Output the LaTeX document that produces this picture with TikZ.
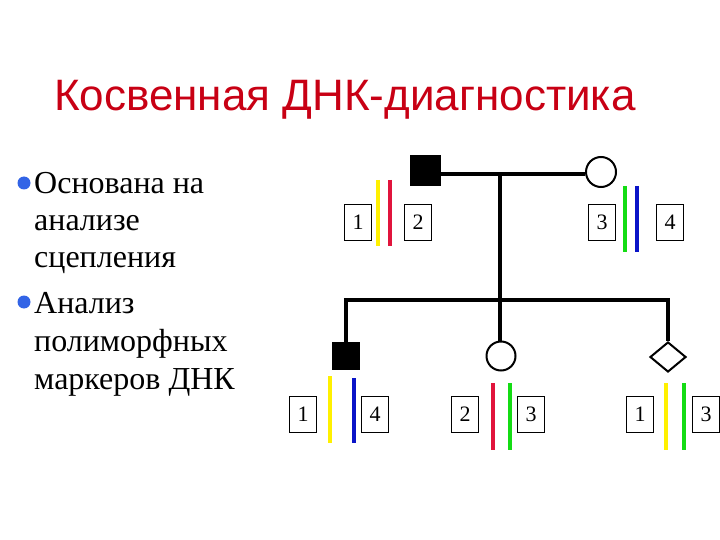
\documentclass[tikz,border=0pt]{standalone}
\usepackage{fontspec}
\setmainfont{Liberation Serif}
\newfontfamily\titlefont{Liberation Sans}
\usetikzlibrary{shapes.geometric}
\definecolor{ttl}{RGB}{200,0,20}
\definecolor{bul}{RGB}{50,100,230}
\definecolor{myyel}{RGB}{255,240,0}
\definecolor{myred}{RGB}{225,20,60}
\definecolor{mygrn}{RGB}{20,220,20}
\definecolor{myblu}{RGB}{10,20,200}
\begin{document}
\begin{tikzpicture}[x=1pt,y=-1pt,
  num/.style={draw,line width=0.7pt,minimum width=27pt,minimum height=36pt,inner sep=0pt,font=\fontsize{22}{22}\selectfont},
  pline/.style={line width=4.5pt},
  allele/.style={line width=4pt},
  body/.style={anchor=base west,font=\fontsize{32}{32}\selectfont,inner sep=0pt},
  bulletdot/.style={circle,fill=bul,minimum size=13pt,inner sep=0pt}]
\useasboundingbox (0,0) rectangle (720,540);
\node[anchor=base west,inner sep=0pt,text=ttl,font=\titlefont\fontsize{44}{44}\selectfont] (title) at (54,111) {Косвенная ДНК-диагностика};
\node[bulletdot] (b1) at (24,183) {};
\node[bulletdot] (b2) at (24,302) {};
\node[body] (t1) at (34,194) {Основана на};
\node[body] (t2) at (34,230) {анализе};
\node[body] (t3) at (34,267) {сцепления};
\node[body] (t4) at (34,313) {Анализ};
\node[body] (t5) at (34,351) {полиморфных};
\node[body] (t6) at (34,389) {маркеров ДНК};
% pedigree
\node[draw,fill=black,minimum size=30pt,inner sep=0pt] (fa) at (425,170) {};
\node[draw,circle,line width=2pt,minimum size=30pt,inner sep=0pt] (mo) at (601,172) {};
\node[draw,fill=black,minimum size=27pt,inner sep=0pt] (so) at (346,356) {};
\node[draw,circle,line width=2pt,minimum size=29pt,inner sep=0pt] (da) at (501,356) {};
\node[draw,diamond,line width=2pt,minimum width=36pt,minimum height=30pt,inner sep=0pt] (un) at (668,357) {};
\coordinate (mt) at (500,174);
\coordinate (sb) at (500,300);
\coordinate (sl) at (346,300);
\coordinate (sr) at (668,300);
\draw[pline] (fa.east |- mt) -- (mo.west |- mt);
\draw[pline] (mt) -- (sb);
\draw[pline] ([xshift=-2.25pt]sl) -- ([xshift=2.25pt]sr);
\draw[pline] (sl) -- (so.north);
\draw[pline] (sb) -- (da.north -| sb);
\draw[pline] (sr) -- (un.north);
% allele boxes
\node[num] (f1) at (358,222) {1};
\node[num] (f2) at (418,222) {2};
\node[num] (m3) at (602,222) {3};
\node[num] (m4) at (670,222) {4};
\node[num] (s1) at (303,414) {1};
\node[num] (s4) at (375,414) {4};
\node[num] (d2) at (465,414) {2};
\node[num] (d3) at (531,414) {3};
\node[num] (u1) at (640,414) {1};
\node[num] (u3) at (706,414) {3};
\coordinate (fy1) at (378,180); \coordinate (fy2) at (378,246);
\coordinate (fr1) at (390,180); \coordinate (fr2) at (390,246);
\draw[allele,myyel] (fy1) -- (fy2);
\draw[allele,myred] (fr1) -- (fr2);
\coordinate (mg1) at (625,186); \coordinate (mg2) at (625,252);
\coordinate (mb1) at (637,186); \coordinate (mb2) at (637,252);
\draw[allele,mygrn] (mg1) -- (mg2);
\draw[allele,myblu] (mb1) -- (mb2);
\coordinate (sy1) at (330,376); \coordinate (sy2) at (330,443);
\coordinate (sb1) at (354,378); \coordinate (sb2) at (354,443);
\draw[allele,myyel] (sy1) -- (sy2);
\draw[allele,myblu] (sb1) -- (sb2);
\coordinate (dr1) at (493,383); \coordinate (dr2) at (493,450);
\coordinate (dg1) at (510,383); \coordinate (dg2) at (510,450);
\draw[allele,myred] (dr1) -- (dr2);
\draw[allele,mygrn] (dg1) -- (dg2);
\coordinate (uy1) at (666,383); \coordinate (uy2) at (666,450);
\coordinate (ug1) at (684,383); \coordinate (ug2) at (684,450);
\draw[allele,myyel] (uy1) -- (uy2);
\draw[allele,mygrn] (ug1) -- (ug2);
\end{tikzpicture}
\end{document}
